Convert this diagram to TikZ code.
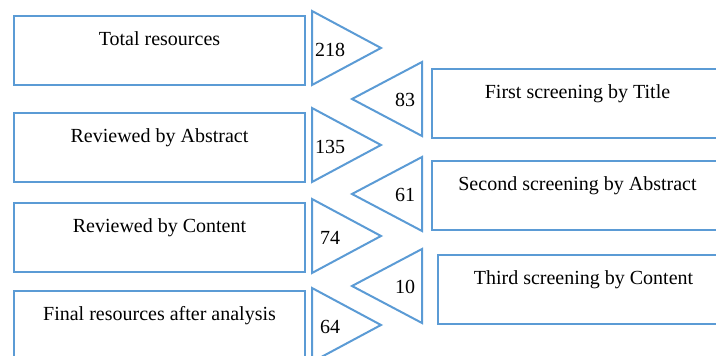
\documentclass[tikz,border=0pt]{standalone}
\usepackage{fontspec}
\setmainfont{Liberation Serif}
\usepackage{tikz}
\usetikzlibrary{positioning}

\definecolor{boxblue}{RGB}{91,155,213}

\begin{document}
\begin{tikzpicture}[
    x=0.5pt, y=-0.5pt,
    every node/.style={font=\fontsize{10}{12}\selectfont},
    stagebox/.style={
        rectangle,
        draw=boxblue,
        line width=1pt,
        anchor=north west,
        align=center,
        minimum width=145.5pt,
        inner ysep=0pt,
        text height=15pt,
        text depth=19.5pt
    },
    funnel/.style={draw=boxblue, line width=1pt, line join=miter},
    count/.style={inner sep=0pt}
]
\useasboundingbox (0,0) rectangle (716,356);
\clip (0,0) rectangle (716,356);

% ---------- Left column (remaining resources) ----------
\node[stagebox] (total)    at (13,15)  {Total resources};
\node[stagebox] (abstract) at (13,112) {Reviewed by Abstract};
\node[stagebox] (content)  at (13,202) {Reviewed by Content};
\node[stagebox] (final)    at (13,290) {Final resources after analysis};

% ---------- Right column (screening steps) ----------
\node[stagebox] (first)  at (431,68)  {First screening by Title};
\node[stagebox] (second) at (431,160) {Second screening by Abstract};
\node[stagebox] (third)  at (437,254) {Third screening by Content};

% ---------- Triangles pointing right, with counts ----------
\foreach \ty/\num in {11/218, 108/135, 199/74, 288/64} {
    \draw[funnel] (312,\ty) -- (381,\ty+37) -- (312,\ty+74) -- cycle;
    \node[count] (kept-\num) at (330,\ty+39) {\num};
}

% ---------- Triangles pointing left, with counts ----------
\foreach \ty/\num in {62/83, 157/61, 249/10} {
    \draw[funnel] (422,\ty) -- (352,\ty+37) -- (422,\ty+74) -- cycle;
    \node[count] (cut-\num) at (405,\ty+38) {\num};
}

\end{tikzpicture}
\end{document}
